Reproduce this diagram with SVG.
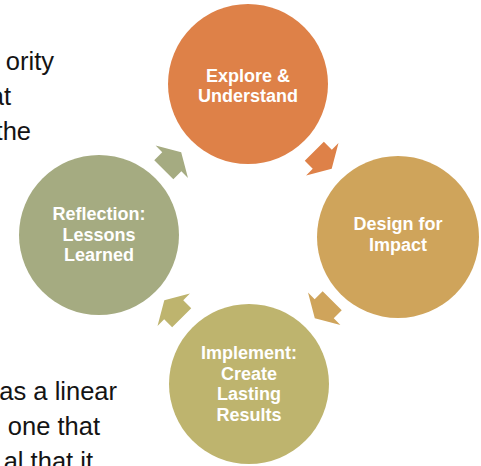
<svg xmlns="http://www.w3.org/2000/svg" width="481" height="466" viewBox="0 0 481 466">
  <style>
    .label { font-family: "Liberation Sans", Arial, sans-serif; font-weight: bold; font-size: 18px; fill: #ffffff; text-anchor: middle; }
    .body { font-family: "Liberation Sans", Arial, sans-serif; font-size: 25.5px; fill: #141414; text-anchor: end; }
    .c-explore { fill: #DE8148; }
    .c-design { fill: #CFA45B; }
    .c-implement { fill: #BEB46E; }
    .c-reflect { fill: #A5AB81; }
  </style>
  <defs>
    <!-- block arrow pointing along +x, centred on the origin -->
    <polygon id="cycle-arrow" points="-12.3,-13.5 -1,-13.5 -1,-22.9 12.3,0 -1,22.9 -1,13.5 -12.3,13.5"/>
  </defs>

  <rect width="481" height="466" fill="#ffffff"/>

  <!-- slide body text running off the left edge -->
  <g id="body-text">
    <text class="body" x="54" y="70">ority</text>
    <text class="body" x="11" y="105">at</text>
    <text class="body" x="31" y="140">the</text>
    <text class="body" x="117" y="400">as a linear</text>
    <text class="body" x="100" y="435">one that</text>
    <text class="body" x="93" y="470">al that it</text>
  </g>

  <!-- cycle arrows -->
  <g id="connectors">
    <use href="#cycle-arrow" class="c-reflect" transform="translate(172.5,161) rotate(-45)"/>
    <use href="#cycle-arrow" class="c-explore" transform="translate(323,160) rotate(45)"/>
    <use href="#cycle-arrow" class="c-design" transform="translate(323.5,309.5) rotate(135)"/>
    <use href="#cycle-arrow" class="c-implement" transform="translate(173,309) rotate(-135)"/>
  </g>

  <g id="node-explore">
    <circle class="c-explore" cx="248" cy="84" r="80"/>
    <text class="label" x="248" y="81.5">Explore &amp;</text>
    <text class="label" x="248" y="101.5">Understand</text>
  </g>

  <g id="node-design">
    <circle class="c-design" cx="398" cy="237" r="81"/>
    <text class="label" x="398" y="230">Design for</text>
    <text class="label" x="398" y="250.5">Impact</text>
  </g>

  <g id="node-implement">
    <circle class="c-implement" cx="249" cy="384" r="80"/>
    <text class="label" x="249" y="359">Implement:</text>
    <text class="label" x="249" y="379.5">Create</text>
    <text class="label" x="249" y="400">Lasting</text>
    <text class="label" x="249" y="420.5">Results</text>
  </g>

  <g id="node-reflection">
    <circle class="c-reflect" cx="99" cy="235" r="80"/>
    <text class="label" x="99" y="220">Reflection:</text>
    <text class="label" x="99" y="240.5">Lessons</text>
    <text class="label" x="99" y="261">Learned</text>
  </g>
</svg>
